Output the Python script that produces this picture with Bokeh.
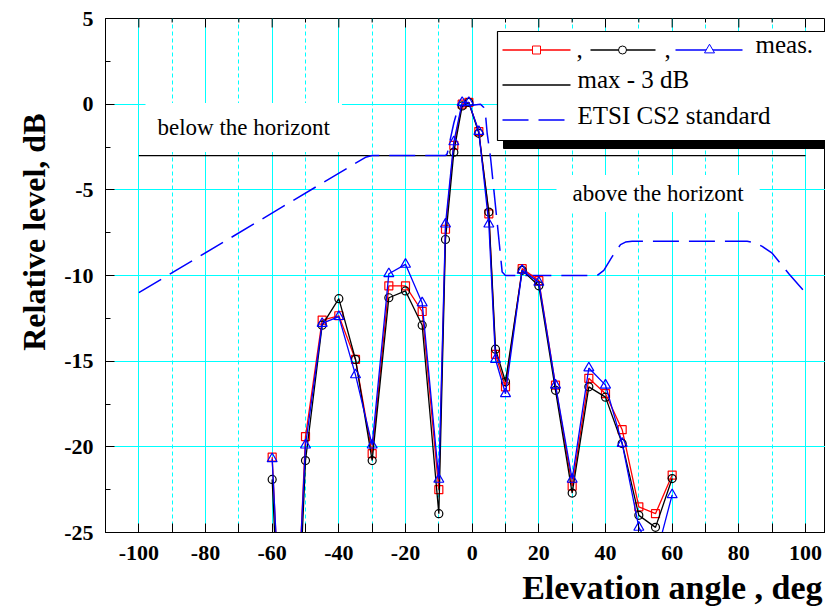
from bokeh.plotting import figure
from bokeh.models import FixedTicker, Label, Range1d, Title
from bokeh.embed import file_html
from bokeh.resources import INLINE

# ---------------- data ----------------
angle = [-60, -55, -50, -45, -40, -35, -30, -25, -20, -15, -10, -8, -5.5, -3, -1,
         2, 5, 7, 10, 15, 20, 25, 30, 35, 40, 45, 50, 55, 60]
meas_red = [-20.6, -41.0, -19.4, -12.6, -12.35, -14.9, -20.4, -10.6, -10.6, -12.1, -22.5,
            -7.3, -2.4, 0.0, 0.1, -1.6, -6.4, -14.6, -16.5, -9.6, -10.3, -16.4, -22.3,
            -16.0, -16.9, -19.0, -23.5, -23.9, -21.65]
meas_black = [-21.9, -43.0, -20.8, -12.9, -11.35, -14.9, -20.8, -11.3, -10.9, -12.9, -23.9,
              -7.9, -2.8, -0.1, 0.1, -1.7, -6.3, -14.3, -16.2, -9.7, -10.6, -16.7, -22.7,
              -16.5, -17.1, -19.8, -24.0, -24.7, -21.85]
meas_blue = [-20.7, -40.0, -19.9, -12.8, -12.4, -15.8, -19.9, -9.9, -9.35, -11.6, -21.9,
             -7.0, -2.2, 0.1, 0.1, -1.6, -7.0, -14.9, -16.9, -9.7, -10.4, -16.4, -21.9,
             -15.4, -16.4, -19.8, -24.7, -26.5, -22.8]

etsi_angle = [-100, -32, -30, -8, -7.5, -6.5, -5.5, -4.5, -4, 2.5, 3.5, 4, 4.5, 5.5, 7.5, 9, 10,
              37.5, 39.5, 42, 44.5, 46, 48, 82.5, 85, 87, 90, 95, 100]
etsi_level = [-11, -3.1, -3, -3, -2.9, -2.0, -1.1, -0.4, -0.15, 0, -0.2, -0.6, -1.7, -3.1, -6.9,
              -9.8, -10, -10, -9.7, -8.9, -8.2, -8.05, -8, -8, -8.1, -8.3, -8.7, -9.9, -11]

max3_angle = [-100, 100]
max3_level = [-3, -3]

x_ticks = [-100, -80, -60, -40, -20, 0, 20, 40, 60, 80, 100]
x_tick_labels = ["-100", "-80", "-60", "-40", "-20", "0", "20", "40", "60", "80", "100"]
x_minor = [-110, -90, -70, -50, -30, -10, 10, 30, 50, 70, 90, 110]
y_ticks = [-25, -20, -15, -10, -5, 0, 5]
y_tick_labels = ["-25", "-20", "-15", "-10", "-5", "0", "5"]
y_minor = [-22.5, -17.5, -12.5, -7.5, -2.5, 2.5]

SERIF = "Liberation Serif"
CYAN = "#00FFFF"

# ---------------- figure ----------------
X0, X1 = -110, 106
Y0, Y1 = -25, 5
W, H = 825, 613
ML, MR, MT, MB = 105, 0, 18, 81

p = figure(width=W, height=H, x_range=Range1d(X0, X1), y_range=Range1d(Y0, Y1),
           output_backend="svg", toolbar_location=None,
           min_border_left=ML, min_border_right=MR, min_border_top=MT, min_border_bottom=MB)
p.background_fill_color = "white"
p.border_fill_color = "white"
p.outline_line_color = "black"
p.outline_line_width = 1

# canvas-pixel -> data helpers (for legend / annotation placement only)
FL, FT = ML, MT
SX = (W - ML - MR) / (X1 - X0)
SY = (H - MT - MB) / (Y1 - Y0)
def dx(px):
    return X0 + (px - FL) / SX
def dy(py):
    return Y1 - (py - FT) / SY

xt = FixedTicker(ticks=x_ticks, minor_ticks=x_minor)
yt = FixedTicker(ticks=y_ticks, minor_ticks=y_minor)

xa = p.xaxis[0]
xa.ticker = xt
xa.major_label_overrides = dict(zip(x_ticks, x_tick_labels))
ya = p.yaxis[0]
ya.ticker = yt
ya.major_label_overrides = dict(zip(y_ticks, y_tick_labels))
for ax in (xa, ya):
    ax.major_tick_out = 0
    ax.minor_tick_out = 0
    ax.major_tick_in = 9
    ax.axis_line_color = "black"
    ax.major_tick_line_color = "black"
    ax.minor_tick_line_color = "black"
    ax.major_label_text_font = SERIF
    ax.major_label_text_font_size = "22px"
    ax.major_label_text_font_style = "bold"
    ax.major_label_text_color = "black"
xa.minor_tick_in = 9
xa.major_label_standoff = 13
ya.minor_tick_in = 5
ya.major_label_standoff = 12

p.xgrid.ticker = xt
p.ygrid.ticker = yt
p.xgrid.grid_line_color = CYAN
p.xgrid.minor_grid_line_color = CYAN
p.xgrid.minor_grid_line_dash = "4 3"
p.ygrid.grid_line_color = CYAN

# mirrored ticks on the top edge, built from the tick arrays
p.segment(x0=x_ticks, y0=[Y1] * len(x_ticks), x1=x_ticks, y1=[Y1 - 9 / SY] * len(x_ticks),
          line_color="black", line_width=1)
p.segment(x0=x_minor, y0=[Y1] * len(x_minor), x1=x_minor, y1=[Y1 - 4 / SY] * len(x_minor),
          line_color="black", line_width=1)

# ---------------- data glyphs ----------------
p.line(max3_angle, max3_level, line_color="black", line_width=1.2)
p.line(etsi_angle, etsi_level, line_color="blue", line_width=1.5, line_dash="26 10")

p.line(angle, meas_red, line_color="red", line_width=1.3)
p.scatter(angle, meas_red, marker="square", size=8, line_color="red", fill_color=None, line_width=1.2)
p.line(angle, meas_black, line_color="black", line_width=1.3)
p.scatter(angle, meas_black, marker="circle", size=8, line_color="black", fill_color=None, line_width=1.2)
p.line(angle, meas_blue, line_color="blue", line_width=1.3)
p.scatter(angle, meas_blue, marker="triangle", size=10, line_color="blue", fill_color=None, line_width=1.2)

# ---------------- legend (hand-built) ----------------
p.quad(left=[dx(503)], right=[dx(850)], top=[dy(38)], bottom=[dy(148)],
       fill_color="black", line_color="black")
p.quad(left=[dx(497)], right=[dx(845)], top=[dy(31)], bottom=[dy(140)],
       fill_color="white", line_color="black", line_width=1.2)
r1 = dy(49.5)
p.line([dx(502), dx(570)], [r1, r1], line_color="red", line_width=1.3)
p.scatter([dx(536)], [r1], marker="square", size=8, line_color="red", fill_color="white")
p.line([dx(590), dx(655)], [r1, r1], line_color="black", line_width=1.3)
p.scatter([dx(622)], [r1], marker="circle", size=8, line_color="black", fill_color="white")
p.line([dx(675), dx(742)], [r1, r1], line_color="blue", line_width=1.3)
p.scatter([dx(709)], [r1], marker="triangle", size=10, line_color="blue", fill_color="white")
r2 = dy(84.5)
p.line([dx(502), dx(570)], [r2, r2], line_color="black", line_width=1.3)
r3 = dy(119.5)
p.line([dx(502), dx(566)], [r3, r3], line_color="blue", line_width=1.5, line_dash="26 10")

def txt(x, y, s, size="25px", style="normal", **kw):
    lab = Label(x=x, y=y, text=s, text_font=SERIF, text_font_size=size,
                text_font_style=style, text_color="black", **kw)
    p.add_layout(lab)
    return lab

txt(dx(576), dy(57.5), ",")
txt(dx(664), dy(57.5), ",")
txt(dx(755), dy(57.5), "meas.")
txt(dx(577), dy(92.5), "max - 3 dB")
txt(dx(577), dy(128), "ETSI CS2 standard")

# region annotations with white background
txt(dx(145), dy(127), "below the horizont", size="23px", text_baseline="middle",
    background_fill_color="white", padding=(12, 12))
txt(dx(556), dy(193), "above the horizont", size="23px", text_baseline="middle",
    background_fill_color="white", padding=(16, 6))

# axis titles
p.add_layout(Title(text="Elevation angle , deg", align="right", offset=3, standoff=8,
                   text_font=SERIF, text_font_size="34px", text_font_style="bold",
                   text_color="black"), "below")
p.add_layout(Title(text="Relative level, dB", align="right", offset=95, standoff=20,
                   text_font=SERIF, text_font_size="32px", text_font_style="bold",
                   text_color="black"), "left")

open("out.html", "w").write(file_html(p, INLINE))
